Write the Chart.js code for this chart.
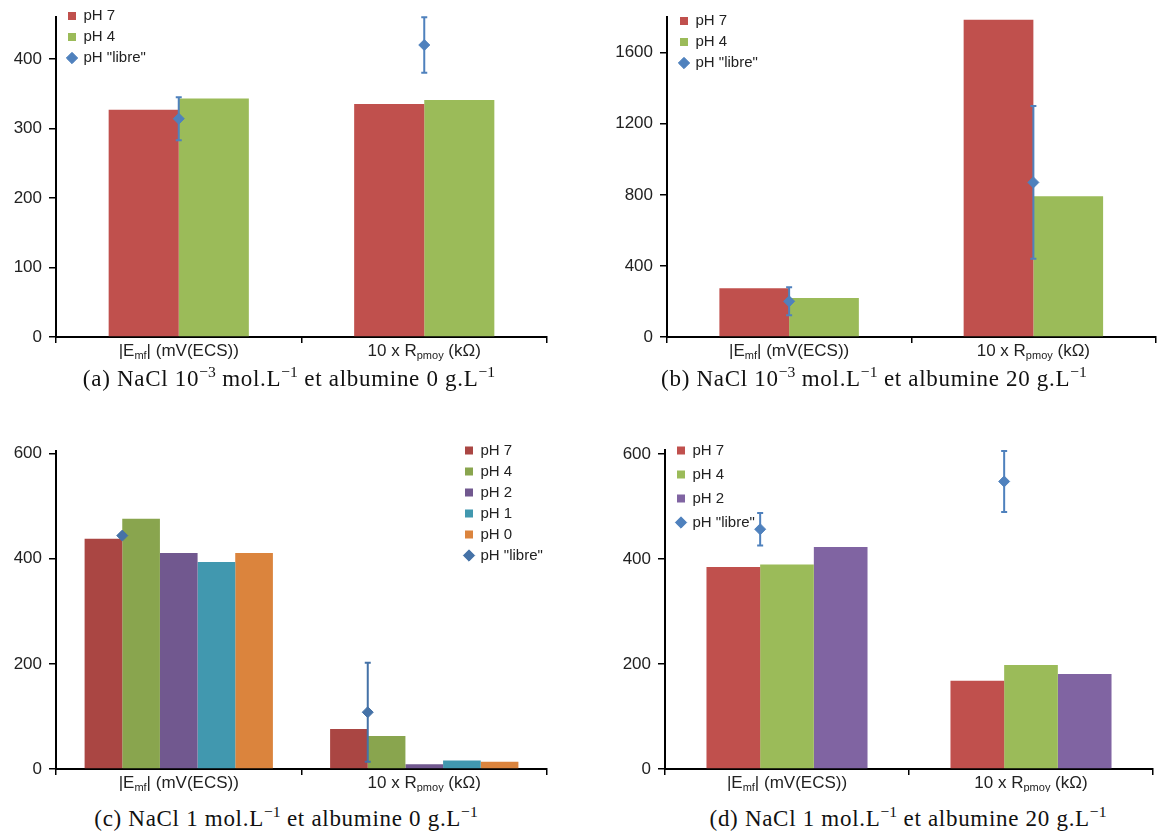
<!DOCTYPE html>
<html>
<head>
<meta charset="utf-8">
<script src="https://cdn.jsdelivr.net/npm/chart.js@4"></script>
<style>
  body { margin: 0; background: #fff; }
  #page { position: relative; width: 1162px; height: 835px; overflow: hidden; }
  canvas { position: absolute; }
  .cap {
    position: absolute; transform: translate(-50%, -50%);
    font-family: "Liberation Serif", "DejaVu Serif", serif; font-size: 23px;
    letter-spacing: 0.7px;
    color: #111; white-space: nowrap; line-height: 1;
  }
  .cap sup { font-size: 0.68em; vertical-align: 0.55em; line-height: 0; letter-spacing: 0; }
</style>
</head>
<body>
<div id="page">
  <canvas id="chartA" width="581" height="372" style="left:0;top:0"></canvas>
  <canvas id="chartB" width="581" height="372" style="left:581px;top:0"></canvas>
  <canvas id="chartC" width="581" height="372" style="left:0;top:420px"></canvas>
  <canvas id="chartD" width="581" height="372" style="left:581px;top:420px"></canvas>
  <div class="cap" style="left:289px;top:378px">(a) NaCl 10<sup>−3</sup> mol.L<sup>−1</sup> et albumine 0 g.L<sup>−1</sup></div>
  <div class="cap" style="left:874px;top:378px">(b) NaCl 10<sup>−3</sup> mol.L<sup>−1</sup> et albumine 20 g.L<sup>−1</sup></div>
  <div class="cap" style="left:286px;top:818px">(c) NaCl 1 mol.L<sup>−1</sup> et albumine 0 g.L<sup>−1</sup></div>
  <div class="cap" style="left:908px;top:818px">(d) NaCl 1 mol.L<sup>−1</sup> et albumine 20 g.L<sup>−1</sup></div>
</div>
<script>
// categories (text in _{...} is drawn as subscript)
const categories = ["|E_{mf}| (mV(ECS))", "10 x R_{pmoy} (kΩ)"];

// (a) NaCl 1e-3, albumine 0
const aPh7 = [327, 335];
const aPh4 = [343, 341];
const aLibre = [314, 420];
const aLibreErr = [31, 40];
const aTicks = [0, 100, 200, 300, 400];

// (b) NaCl 1e-3, albumine 20
const bPh7 = [275, 1785];
const bPh4 = [219, 792];
const bLibre = [201, 870];
const bLibreErr = [79, 430];
const bTicks = [0, 400, 800, 1200, 1600];

// (c) NaCl 1, albumine 0
const cPh7 = [438, 76];
const cPh4 = [476, 63];
const cPh2 = [411, 9];
const cPh1 = [394, 16];
const cPh0 = [411, 14];
const cLibre = [444, 108];
const cLibreErr = [3, 94];
const cTicks = [0, 200, 400, 600];

// (d) NaCl 1, albumine 20
const dPh7 = [385, 168];
const dPh4 = [390, 198];
const dPh2 = [423, 181];
const dLibre = [457, 548];
const dLibreErr = [31, 58];
const dTicks = [0, 200, 400, 600];

Chart.defaults.font.family = "'Liberation Sans', Arial, sans-serif";
Chart.defaults.color = "#222";

const TEXT = "#222";
const LABEL_FONT = "17px 'Liberation Sans', Arial, sans-serif";
const SUB_FONT = "11px 'Liberation Sans', Arial, sans-serif";

// put the "libre" points on the right edge of the first bar, and draw their error bars
const errorBars = {
  id: "errorBars",
  afterDatasetsUpdate(chart) {
    const bars = chart.getDatasetMeta(0).data;
    chart.data.datasets.forEach((ds, di) => {
      if (!ds.errors) return;
      chart.getDatasetMeta(di).data.forEach((pt, i) => {
        pt.x = bars[i].x + bars[i].width / 2;
      });
    });
  },
  beforeDatasetDraw(chart, args) {
    const ds = chart.data.datasets[args.index];
    if (!ds.errors) return;
    const ys = chart.scales.y;
    const ctx = chart.ctx;
    ctx.save();
    ctx.strokeStyle = ds.borderColor;
    ctx.lineWidth = 2;
    args.meta.data.forEach((pt, i) => {
      const e = ds.errors[i];
      if (!e) return;
      const top = ys.getPixelForValue(ds.data[i] + e);
      const bot = ys.getPixelForValue(ds.data[i] - e);
      ctx.beginPath();
      ctx.moveTo(pt.x, top); ctx.lineTo(pt.x, bot);
      ctx.moveTo(pt.x - 3, top); ctx.lineTo(pt.x + 3, top);
      ctx.moveTo(pt.x - 3, bot); ctx.lineTo(pt.x + 3, bot);
      ctx.stroke();
    });
    ctx.restore();
  }
};

// category labels with subscripts
const subLabels = {
  id: "subLabels",
  afterDraw(chart) {
    const xs = chart.scales.x;
    const ctx = chart.ctx;
    ctx.save();
    ctx.fillStyle = TEXT;
    ctx.textBaseline = "alphabetic";
    ctx.textAlign = "left";
    chart.data.labels.forEach((lab, i) => {
      const parts = lab.split(/(_\{[^}]*\})/).filter(Boolean).map(p =>
        p.startsWith("_{") ? { t: p.slice(2, -1), sub: true } : { t: p, sub: false });
      let w = 0;
      parts.forEach(p => {
        ctx.font = p.sub ? SUB_FONT : LABEL_FONT;
        p.w = ctx.measureText(p.t).width;
        w += p.w;
      });
      let x = xs.getPixelForValue(i) - w / 2;
      const y = xs.top + 19;
      parts.forEach(p => {
        ctx.font = p.sub ? SUB_FONT : LABEL_FONT;
        ctx.fillText(p.t, x, p.sub ? y + 3 : y);
        x += p.w;
      });
    });
    ctx.restore();
  }
};

// legend placed inside the plot
const legendPlace = {
  id: "legendPlace",
  afterLayout(chart, args, opts) {
    const lg = chart.legend;
    const pad = chart.options.plugins.legend.labels.padding;
    lg.left = opts.x - pad;
    lg.top = opts.y - pad - 7.5;
    lg.right = lg.left + lg.width;
    lg.bottom = chart.chartArea.bottom;
  }
};

function barSet(label, data, color) {
  return { type: "bar", label, data, backgroundColor: color, borderWidth: 0, pointStyle: "rect", order: 1 };
}
function libreSet(data, errors, color) {
  return {
    type: "line", label: 'pH "libre"', data, errors, order: 0,
    showLine: false, pointStyle: "rectRot", pointRadius: 5.5,
    backgroundColor: color, borderColor: color,
    pointBackgroundColor: color, pointBorderColor: color, pointBorderWidth: 1
  };
}

function makeChart(id, datasets, cfg) {
  const canvas = document.getElementById(id);
  const W = canvas.width, H = canvas.height;
  return new Chart(canvas, {
    data: { labels: categories, datasets },
    options: {
      responsive: false,
      animation: false,
      devicePixelRatio: 1,
      layout: { padding: { left: 0, top: cfg.area.top, right: W - cfg.area.right, bottom: 0 } },
      datasets: { bar: { categoryPercentage: cfg.catPct, barPercentage: 1 } },
      scales: {
        x: {
          type: "category",
          offset: true,
          ticks: { display: false },
          grid: { offset: true, drawOnChartArea: false, tickLength: 6, color: "#000", lineWidth: 1.5 },
          border: { color: "#000", width: 2 },
          afterFit: s => { s.height = H - cfg.area.bottom; }
        },
        y: {
          min: 0, max: cfg.max,
          afterBuildTicks: s => { s.ticks = cfg.ticks.map(v => ({ value: v })); },
          ticks: { font: { size: 17 }, color: TEXT, padding: 7, callback: v => String(v) },
          grid: { drawOnChartArea: false, tickLength: 7, color: "#000", lineWidth: 1.5 },
          border: { color: "#000", width: 2 },
          afterFit: s => { s.width = cfg.area.left; }
        }
      },
      plugins: {
        tooltip: { enabled: false },
        legend: {
          position: "chartArea",
          align: "start",
          labels: {
            usePointStyle: true, boxWidth: 8, boxHeight: 8,
            padding: cfg.legendPad, color: TEXT, font: { size: 15 },
            sort: (a, b) => a.datasetIndex - b.datasetIndex
          }
        },
        legendPlace: cfg.legendAt
      }
    },
    plugins: [errorBars, subLabels, legendPlace]
  });
}

const red = "#C0504D", green = "#9BBB59", purple = "#8064A2", blue = "#4F81BD";

makeChart("chartA", [
  barSet("pH 7", aPh7, red),
  barSet("pH 4", aPh4, green),
  libreSet(aLibre, aLibreErr, blue)
], { area: { left: 56, right: 547, top: 16, bottom: 337 }, max: 460, ticks: aTicks,
     catPct: 0.571, legendPad: 6, legendAt: { x: 68, y: 16 } });

makeChart("chartB", [
  barSet("pH 7", bPh7, red),
  barSet("pH 4", bPh4, green),
  libreSet(bLibre, bLibreErr, blue)
], { area: { left: 86, right: 576, top: 16, bottom: 337 }, max: 1800, ticks: bTicks,
     catPct: 0.571, legendPad: 6, legendAt: { x: 99, y: 21 } });

makeChart("chartC", [
  barSet("pH 7", cPh7, "#AA4643"),
  barSet("pH 4", cPh4, "#89A54E"),
  barSet("pH 2", cPh2, "#71588F"),
  barSet("pH 1", cPh1, "#4198AF"),
  barSet("pH 0", cPh0, "#DB843D"),
  libreSet(cLibre, cLibreErr, "#4572A7")
], { area: { left: 56, right: 547, top: 31, bottom: 349 }, max: 605, ticks: cTicks,
     catPct: 0.767, legendPad: 6, legendAt: { x: 465, y: 30.5 } });

makeChart("chartD", [
  barSet("pH 7", dPh7, red),
  barSet("pH 4", dPh4, green),
  barSet("pH 2", dPh2, purple),
  libreSet(dLibre, dLibreErr, blue)
], { area: { left: 84, right: 572, top: 30, bottom: 349 }, max: 608, ticks: dTicks,
     catPct: 0.66, legendPad: 9, legendAt: { x: 96, y: 30.5 } });
</script>
</body>
</html>
